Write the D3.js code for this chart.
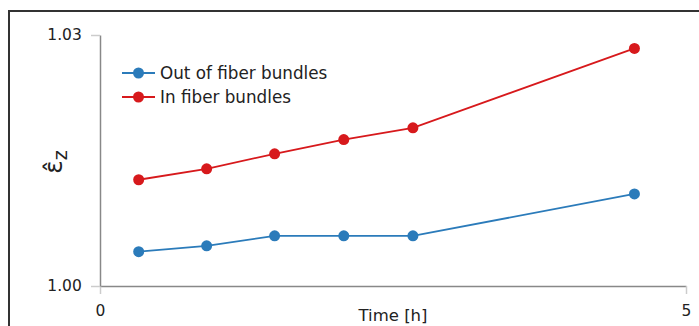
<!DOCTYPE html>
<html>
<head>
<meta charset="utf-8">
<script src="https://cdn.jsdelivr.net/npm/d3@7"></script>
<style>
  body { margin: 0; background: #fff; }
  svg text { font-family: "DejaVu Sans", sans-serif; fill: #222; }
</style>
</head>
<body>
<div id="chart"></div>
<script>
// data
const times = [0.33, 0.91, 1.49, 2.08, 2.67, 4.56];
const outBundles = [1.0041, 1.0048, 1.0060, 1.0060, 1.0060, 1.0110];
const inBundles = [1.0127, 1.0140, 1.0158, 1.0175, 1.0189, 1.0284];
const seriesNames = ["Out of fiber bundles", "In fiber bundles"];
const seriesColors = ["#2b7bba", "#d7191c"];
const xTicks = [0, 5];
const yTicks = [1.00, 1.03];

const W = 699, H = 326;
const m = { top: 35, right: 13, bottom: 40, left: 100 };

const svg = d3.select("#chart").append("svg")
  .attr("width", W)
  .attr("height", H);

// outer frame (cut off at right and bottom)
svg.append("rect")
  .attr("x", 9).attr("y", 11)
  .attr("width", 720).attr("height", 340)
  .attr("fill", "none")
  .attr("stroke", "#333")
  .attr("stroke-width", 2);

const x = d3.scaleLinear().domain([0, 5]).range([m.left, W - m.right]);
const y = d3.scaleLinear().domain([1.00, 1.03]).range([H - m.bottom, m.top]);

// axes
const xAxis = svg.append("g")
  .attr("transform", `translate(0,${y(1.00)})`)
  .call(d3.axisBottom(x).tickValues(xTicks).tickFormat(d3.format("d")).tickSize(8).tickSizeOuter(0));
const yAxis = svg.append("g")
  .attr("transform", `translate(${x(0)},0)`)
  .call(d3.axisLeft(y).tickValues(yTicks).tickFormat(d3.format(".2f")).tickSize(9).tickSizeOuter(0));

[xAxis, yAxis].forEach(a => {
  a.select(".domain").attr("stroke", "#888").attr("stroke-width", 1.5);
  a.selectAll(".tick line").attr("stroke", "#ccc").attr("stroke-width", 1.5);
  a.selectAll(".tick text").attr("font-size", 15.5).attr("fill", "#222");
});
xAxis.selectAll(".tick text").attr("dy", "1.2em");
yAxis.selectAll(".tick text").attr("dx", "-0.4em");

// axis titles
svg.append("text")
  .attr("x", x(2.5))
  .attr("y", 321)
  .attr("text-anchor", "middle")
  .attr("font-size", 16.5)
  .text("Time [h]");

const yLab = svg.append("text")
  .attr("transform", `translate(62,162) rotate(-90)`)
  .attr("text-anchor", "middle")
  .attr("font-size", 25);
yLab.append("tspan").text("ε\u0302");
yLab.append("tspan").attr("font-size", 19).attr("dy", 5).text("z");

// lines and markers
const line = d3.line().x((d, i) => x(times[i])).y(d => y(d));
[outBundles, inBundles].forEach((vals, k) => {
  svg.append("path")
    .datum(vals)
    .attr("d", line)
    .attr("fill", "none")
    .attr("stroke", seriesColors[k])
    .attr("stroke-width", 1.8);
  svg.selectAll(null)
    .data(vals)
    .enter()
    .append("circle")
    .attr("cx", (d, i) => x(times[i]))
    .attr("cy", d => y(d))
    .attr("r", 5.5)
    .attr("fill", seriesColors[k]);
});

// legend
const legend = svg.append("g").attr("transform", "translate(122,73)");
seriesNames.forEach((name, k) => {
  const g = legend.append("g").attr("transform", `translate(0,${k * 24})`);
  g.append("line")
    .attr("x1", 0).attr("x2", 33)
    .attr("stroke", seriesColors[k])
    .attr("stroke-width", 1.8);
  g.append("circle")
    .attr("cx", 16.5).attr("r", 5.5)
    .attr("fill", seriesColors[k]);
  g.append("text")
    .attr("x", 38)
    .attr("dy", "0.35em")
    .attr("font-size", 16.8)
    .text(name);
});
</script>
</body>
</html>
